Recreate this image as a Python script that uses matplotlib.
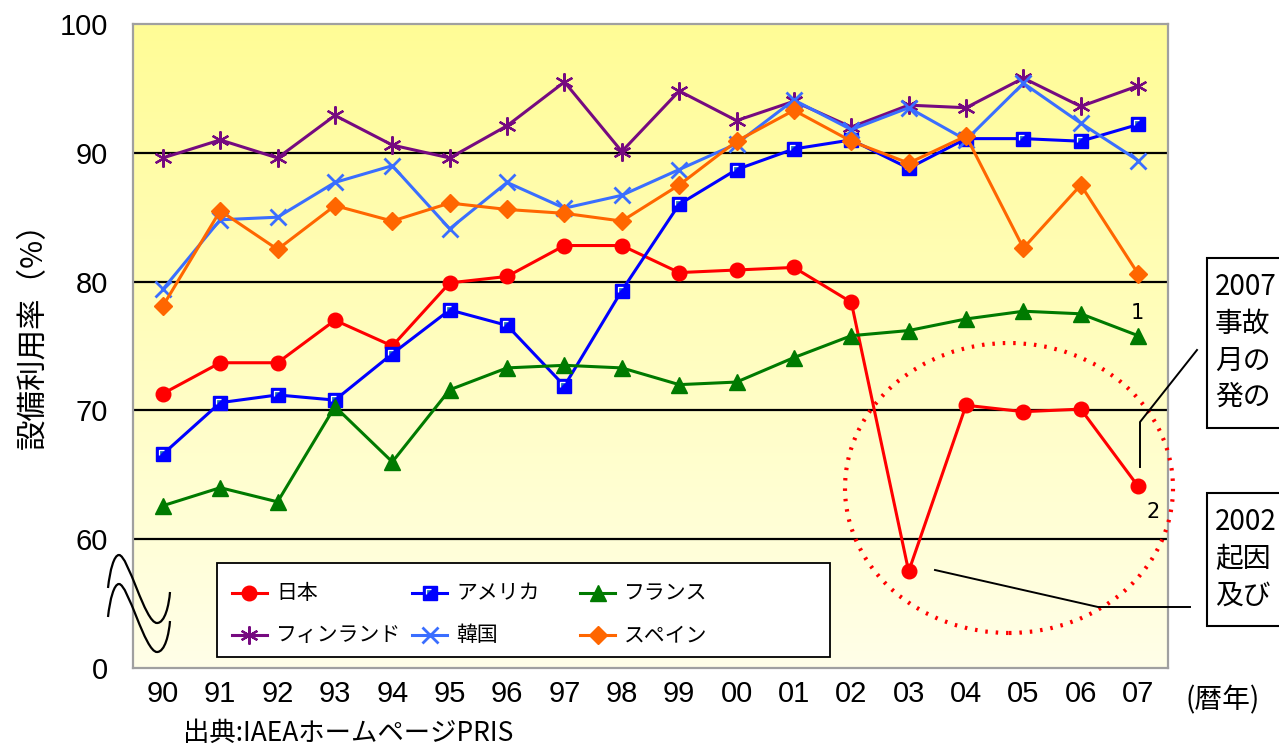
import numpy as np
import matplotlib
matplotlib.use('Agg')
import matplotlib.pyplot as plt
from matplotlib.lines import Line2D
from matplotlib.patches import Rectangle, Ellipse, PathPatch
from matplotlib.path import Path

plt.rcParams['font.family'] = ['Noto Sans CJK JP', 'DejaVu Sans']

# 設備利用率（%）、1990〜2007年
years = ['90', '91', '92', '93', '94', '95', '96', '97', '98',
         '99', '00', '01', '02', '03', '04', '05', '06', '07']
japan = [71.3, 73.7, 73.7, 77.0, 75.0, 79.9, 80.4, 82.8, 82.8,
         80.7, 80.9, 81.1, 78.4, 57.5, 70.4, 69.9, 70.1, 64.1]
usa = [66.6, 70.6, 71.2, 70.8, 74.4, 77.8, 76.6, 71.9, 79.3,
       86.0, 88.7, 90.3, 91.0, 88.8, 91.1, 91.1, 90.9, 92.2]
france = [62.6, 64.0, 62.9, 70.3, 66.0, 71.6, 73.3, 73.5, 73.3,
          72.0, 72.2, 74.1, 75.8, 76.2, 77.1, 77.7, 77.5, 75.8]
finland = [89.6, 91.0, 89.6, 92.9, 90.6, 89.6, 92.1, 95.5, 90.1,
           94.8, 92.5, 94.0, 92.0, 93.7, 93.5, 95.8, 93.6, 95.2]
korea = [79.4, 84.8, 85.0, 87.7, 89.0, 84.1, 87.7, 85.7, 86.7,
         88.7, 90.7, 94.1, 91.8, 93.5, 91.0, 95.4, 92.3, 89.4]
spain = [78.1, 85.5, 82.5, 85.9, 84.7, 86.1, 85.6, 85.3, 84.7,
         87.5, 90.9, 93.3, 90.9, 89.2, 91.3, 82.6, 87.5, 80.6]

# 縦軸は 60 未満を省略（一番下の目盛りが 0）
ytick_pos = [50, 60, 70, 80, 90, 100]
ytick_labels = ['0', '60', '70', '80', '90', '100']
grid_levels = [60, 70, 80, 90]

W, H = 1279, 745


def fx(px):
    return px / W


def fy(py):
    return 1 - py / H


fig = plt.figure(figsize=(W / 100, H / 100), dpi=100)
ax = fig.add_axes([fx(133), fy(668), fx(1168) - fx(133), (668 - 24) / H])

x = np.arange(len(years))
x0, x1 = -0.52, len(years) - 1 + 0.52

# 背景のグラデーション（上が濃い黄色）
top = np.array([255, 252, 150]) / 255
bot = np.array([255, 255, 232]) / 255
t = np.linspace(0, 1, 256)[:, None]
grad = (top * (1 - t) + bot * t)[:, None, :]
ax.imshow(grad, extent=(x0, x1, 50, 100), aspect='auto', origin='upper', zorder=0)
ax.hlines(grid_levels, x0, x1, colors='black', lw=1.6, zorder=1)

series = [
    ('日本', japan, dict(color='#FF0000', marker='o', ms=10.5)),
    ('アメリカ', usa, dict(color='#0000FF', marker='s', ms=10)),
    ('フランス', france, dict(color='#007A00', marker='^', ms=11)),
    ('フィンランド', finland, dict(color='#760A80', marker=(6, 2, 0), ms=13, mew=1.6)),
    ('韓国', korea, dict(color='#3A6EFF', marker='x', ms=12, mew=2)),
    ('スペイン', spain, dict(color='#FF6600', marker='D', ms=9)),
]

# アメリカの四角マーカーの白いハイライト
corner = Path([(-0.3, -0.05), (-0.3, 0.3), (0.1, 0.3)],
              [Path.MOVETO, Path.LINETO, Path.LINETO])

for i, (name, vals, st) in enumerate(series):
    ax.plot(x, vals, lw=2.2, zorder=3 + i, **st)
    if name == 'アメリカ':
        ax.plot(x, vals, ls='none', marker=corner, ms=6, mec='white',
                mew=0.9, zorder=3 + i)

ax.set_xlim(x0, x1)
ax.set_ylim(50, 100)
ax.set_xticks(x)
ax.set_xticklabels(years, fontfamily='Liberation Sans', fontsize=21)
ax.set_yticks(ytick_pos)
ax.set_yticklabels(ytick_labels, fontfamily='Liberation Sans', fontsize=21)
ax.tick_params(axis='both', length=0)
ax.tick_params(axis='y', pad=18)
ax.tick_params(axis='x', pad=9)
for sp in ax.spines.values():
    sp.set_color('#A0A0A0')
    sp.set_linewidth(1.6)

fig.text(fx(33), fy(328), '設備利用率（%）', rotation=90, ha='center',
         va='center', fontsize=22)
fig.text(fx(1186), fy(700), '(暦年)', ha='left', va='center', fontsize=20)
fig.text(fx(183), fy(733), '出典:IAEAホームページPRIS', ha='left',
         va='center', fontsize=19)

# 軸の省略記号（波線）
def wave(dy):
    pts = [(108, 588), (110, 570), (114, 555), (119, 555),
           (128, 555), (145, 623), (157, 623),
           (165, 623), (169, 605), (170, 592)]
    codes = [Path.MOVETO] + [Path.CURVE4] * 9
    return Path([(fx(px), fy(py + dy)) for px, py in pts], codes)


for dy in (0, 29):
    fig.add_artist(PathPatch(wave(dy), fill=False, ec='black', lw=1.6,
                             transform=fig.transFigure))

# 凡例
leg_cols = [(232, 276), (412, 456), (580, 624)]
leg_rows = [593, 635]
fig.add_artist(Rectangle((fx(217), fy(657)), fx(830) - fx(217), (657 - 563) / H,
                         transform=fig.transFigure, fc='white', ec='black', lw=1.3))
for k, (name, vals, st) in enumerate(series):
    r, c = divmod(k, 3)
    hx, tx = leg_cols[c]
    yy = fy(leg_rows[r])
    fig.add_artist(Line2D([fx(hx), fx(hx + 17.5), fx(hx + 35)], [yy] * 3,
                          transform=fig.transFigure, lw=2.2, markevery=[1], **st))
    if name == 'アメリカ':
        fig.add_artist(Line2D([fx(hx + 17.5)], [yy], transform=fig.transFigure,
                              ls='none', marker=corner, ms=6, mec='white', mew=0.9))
    fig.text(fx(tx), yy, name, ha='left', va='center', fontsize=15)

# 日本の低下部分を囲む点線の楕円
fig.add_artist(Ellipse((fx(1009), fy(488)), 328 / W, 290 / H, transform=fig.transFigure,
                       fill=False, ec='#FF0000', lw=3.0, ls=(0, (0.6, 1.9))))

# 注記の引き出し線
fig.add_artist(Line2D([fx(1140), fx(1140), fx(1197)], [fy(467), fy(422), fy(350)],
                      transform=fig.transFigure, color='black', lw=1.4))
fig.add_artist(Line2D([fx(935), fx(1098), fx(1190)], [fy(570), fy(607), fy(607)],
                      transform=fig.transFigure, color='black', lw=1.4))
fig.text(fx(1137), fy(313), '1', ha='center', va='center', fontsize=15,
         fontfamily=['Liberation Sans Narrow', 'DejaVu Sans'])
fig.text(fx(1153), fy(512), '2', ha='center', va='center', fontsize=15,
         fontfamily=['Liberation Sans Narrow', 'DejaVu Sans'])

# 注記ボックス（図の右端で切れている）
notes = [
    (258, 428, ['2007', '事故', '月の', '発の']),
    (493, 626, ['2002', '起因', '及び']),
]
for top_y, bot_y, lines in notes:
    fig.add_artist(Rectangle((fx(1207), fy(bot_y)), 300 / W, (bot_y - top_y) / H,
                             transform=fig.transFigure, fc='white', ec='black', lw=1.5))
    for j, s in enumerate(lines):
        fig.text(fx(1215), fy(top_y + 29 + 36.7 * j), s, ha='left', va='center',
                 fontsize=20)

fig.savefig('out.png', dpi=100)
